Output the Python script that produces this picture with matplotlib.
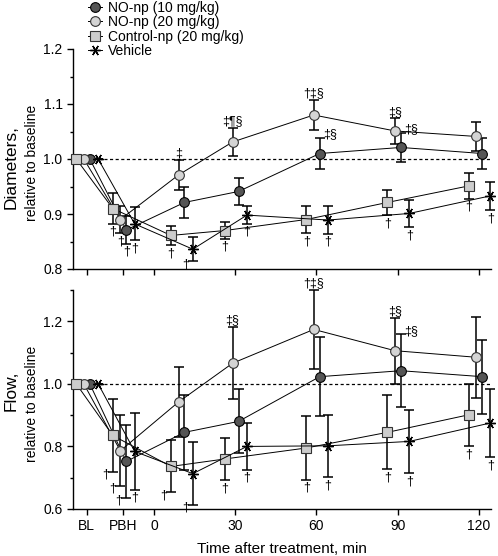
import matplotlib
matplotlib.use('Agg')
import matplotlib.pyplot as plt
from matplotlib.lines import Line2D

plt.rcParams['font.family'] = ['Liberation Sans', 'DejaVu Sans']

# ---------------- data ----------------
tick_labels = ['BL', 'PBH', '0', '30', '60', '90', '120']
tick_pos = [-25, -11.5, 0, 30, 60, 90, 120]
times = [-25, -11.5, 10, 30, 60, 90, 120]

series_names = ['NO-np (10 mg/kg)', 'NO-np (20 mg/kg)', 'Control-np (20 mg/kg)', 'Vehicle']

# Diameters, relative to baseline
diam_no10 = [1.0, 0.871, 0.921, 0.941, 1.010, 1.021, 1.010]
diam_no10_err = [0, 0.025, 0.028, 0.024, 0.029, 0.027, 0.029]
diam_no20 = [1.0, 0.890, 0.971, 1.031, 1.080, 1.051, 1.041]
diam_no20_err = [0, 0.025, 0.027, 0.025, 0.028, 0.023, 0.026]
diam_ctrl = [1.0, 0.910, 0.861, 0.870, 0.890, 0.921, 0.951]
diam_ctrl_err = [0, 0.028, 0.018, 0.015, 0.025, 0.023, 0.023]
diam_veh = [1.0, 0.882, 0.836, 0.898, 0.889, 0.901, 0.933]
diam_veh_err = [0, 0.030, 0.022, 0.016, 0.025, 0.025, 0.026]

# Flow, relative to baseline
flow_no10 = [1.0, 0.752, 0.845, 0.880, 1.023, 1.042, 1.023]
flow_no10_err = [0, 0.116, 0.120, 0.102, 0.127, 0.116, 0.118]
flow_no20 = [1.0, 0.786, 0.942, 1.066, 1.174, 1.106, 1.085]
flow_no20_err = [0, 0.113, 0.113, 0.116, 0.127, 0.105, 0.130]
flow_ctrl = [1.0, 0.835, 0.736, 0.760, 0.795, 0.845, 0.901]
flow_ctrl_err = [0, 0.116, 0.083, 0.068, 0.102, 0.118, 0.100]
flow_veh = [1.0, 0.784, 0.713, 0.800, 0.802, 0.816, 0.875]
flow_veh_err = [0, 0.122, 0.100, 0.074, 0.100, 0.102, 0.110]

# significance symbols
diam_sig_no10 = ['', '†', '', '', '‡§', '‡§', '']
diam_sig_no20 = ['', '†', '‡', '‡¶§', '†‡§', '‡§', '']
diam_sig_ctrl = ['', '†', '†', '†', '†', '†', '†']
diam_sig_veh = ['', '†', '†', '†', '†', '†', '†']
flow_sig_no10 = ['', '†', '', '', '', '‡§', '']
flow_sig_no20 = ['', '†', '', '‡§', '†‡§', '‡§', '']
flow_sig_ctrl = ['', '†', '†', '†', '†', '†', '†']
flow_sig_veh = ['', '†', '†', '†', '†', '†', '†']

# ---------------- styles ----------------
dodge = [1.2, -1.0, -3.8, 4.3]
styles = [
    dict(marker='o', mfc='#555555', mec='black', ms=7.0),
    dict(marker='o', mfc='#d4d4d4', mec='#333333', ms=7.0),
    dict(marker='s', mfc='#cccccc', mec='#333333', ms=6.5),
    dict(marker=(6, 2, 90), mfc='black', mec='black', ms=7.5, mew=1.0),
]
# placement of symbols: b=below lower cap, l=left of lower cap, a=above, r=above right
diam_place = [
    ['', 'b', '', '', 'r', 'r', ''],
    ['', 'b', 'a', 'a', 'a', 'a', ''],
    ['', 'b', 'b', 'b', 'b', 'b', 'b'],
    ['', 'b', 'l', 'b', 'b', 'b', 'b'],
]
flow_place = [
    ['', 'l', '', '', '', 'r', ''],
    ['', 'l', '', 'a', 'a', 'a', ''],
    ['', 'l', 'l', 'b', 'b', 'b', 'b'],
    ['', 'b', 'l', 'b', 'b', 'b', 'b'],
]

W, H = 498, 556
fig = plt.figure(figsize=(W / 100, H / 100), dpi=100)

def fx(px):
    return px / W

def fy(py):
    return 1 - py / H

ax1 = fig.add_axes([fx(73), fy(269), fx(491 - 73), (269 - 49) / H])
ax2 = fig.add_axes([fx(73), fy(509), fx(491 - 73), (509 - 290) / H])


def draw(ax, vals, errs, sigs, places, ylim, major, minor):
    order = [3, 2, 1, 0]
    for i in order:
        xs = [t + dodge[i] for t in times]
        st = styles[i]
        ax.errorbar(xs, vals[i], yerr=errs[i], fmt='none', ecolor='black',
                    elinewidth=1.1, capsize=3.8, capthick=1.1, zorder=2 + i * 0.1,
                    clip_on=False)
        ax.plot(xs, vals[i], color='black', lw=0.7, zorder=3 + i * 0.1,
                marker=st['marker'], mfc=st['mfc'], mec=st['mec'], ms=st['ms'],
                mew=st.get('mew', 0.8), clip_on=False)
        for k, (txt, pl) in enumerate(zip(sigs[i], places[i])):
            if not txt:
                continue
            lo = vals[i][k] - errs[i][k]
            hi = vals[i][k] + errs[i][k]
            if pl == 'b':
                ax.annotate(txt, (xs[k], lo), xytext=(0, -1.5), textcoords='offset points',
                            ha='center', va='top', fontsize=9)
            elif pl == 'l':
                ax.annotate(txt, (xs[k], lo), xytext=(-3, -2), textcoords='offset points',
                            ha='right', va='center', fontsize=9)
            elif pl == 'a':
                ax.annotate(txt, (xs[k], hi), xytext=(0, 0.5), textcoords='offset points',
                            ha='center', va='bottom', fontsize=9)
            elif pl == 'r':
                ax.annotate(txt, (xs[k], hi), xytext=(2.5, -2), textcoords='offset points',
                            ha='left', va='bottom', fontsize=9)
    ax.plot([times[0], 124], [1.0, 1.0], ls=(0, (2.5, 2)), color='black', lw=0.9, zorder=1)
    ax.set_xlim(-30, 124.5)
    ax.set_ylim(*ylim)
    ax.set_yticks(major)
    ax.set_yticks(minor, minor=True)
    ax.set_xticks(tick_pos)
    for s in ['top', 'right']:
        ax.spines[s].set_visible(False)
    ax.tick_params(direction='out', length=4, width=1, labelsize=10)
    ax.tick_params(which='minor', direction='out', length=2.5, width=1)
    ax.spines['left'].set_linewidth(1)
    ax.spines['bottom'].set_linewidth(1)


draw(ax1,
     [diam_no10, diam_no20, diam_ctrl, diam_veh],
     [diam_no10_err, diam_no20_err, diam_ctrl_err, diam_veh_err],
     [diam_sig_no10, diam_sig_no20, diam_sig_ctrl, diam_sig_veh],
     diam_place, (0.8, 1.2), [0.8, 0.9, 1.0, 1.1, 1.2],
     [0.85, 0.95, 1.05, 1.15])
ax1.set_yticklabels(['0.8', '0.9', '1.0', '1.1', '1.2'])
ax1.set_xticklabels([])

draw(ax2,
     [flow_no10, flow_no20, flow_ctrl, flow_veh],
     [flow_no10_err, flow_no20_err, flow_ctrl_err, flow_veh_err],
     [flow_sig_no10, flow_sig_no20, flow_sig_ctrl, flow_sig_veh],
     flow_place, (0.6, 1.3), [0.6, 0.8, 1.0, 1.2], [0.7, 0.9, 1.1, 1.3])
ax2.set_yticklabels(['0.6', '0.8', '1.0', '1.2'])
ax2.set_xticklabels(tick_labels)
ax2.set_xlabel('Time after treatment, min', fontsize=11, labelpad=6)

# y labels (two-line, mixed size)
fig.text(fx(11), fy(167), 'Diameters,', rotation=90, fontsize=12.5, ha='center', va='center')
fig.text(fx(32), fy(163), 'relative to baseline', rotation=90, fontsize=10, ha='center', va='center')
fig.text(fx(11), fy(391), 'Flow,', rotation=90, fontsize=12.5, ha='center', va='center')
fig.text(fx(32), fy(404), 'relative to baseline', rotation=90, fontsize=10, ha='center', va='center')

# legend
handles = []
for i in range(4):
    st = styles[i]
    handles.append(Line2D([], [], color='black', lw=0.7, marker=st['marker'],
                          mfc=st['mfc'], mec=st['mec'], ms=st['ms'], mew=st.get('mew', 0.8)))
fig.legend(handles, series_names, loc='upper left', bbox_to_anchor=(fx(88), fy(1.0)),
           frameon=False, fontsize=10, handlelength=1.0, handletextpad=0.45,
           labelspacing=0.02, borderpad=0, borderaxespad=0)

fig.savefig('out.png', dpi=100)
